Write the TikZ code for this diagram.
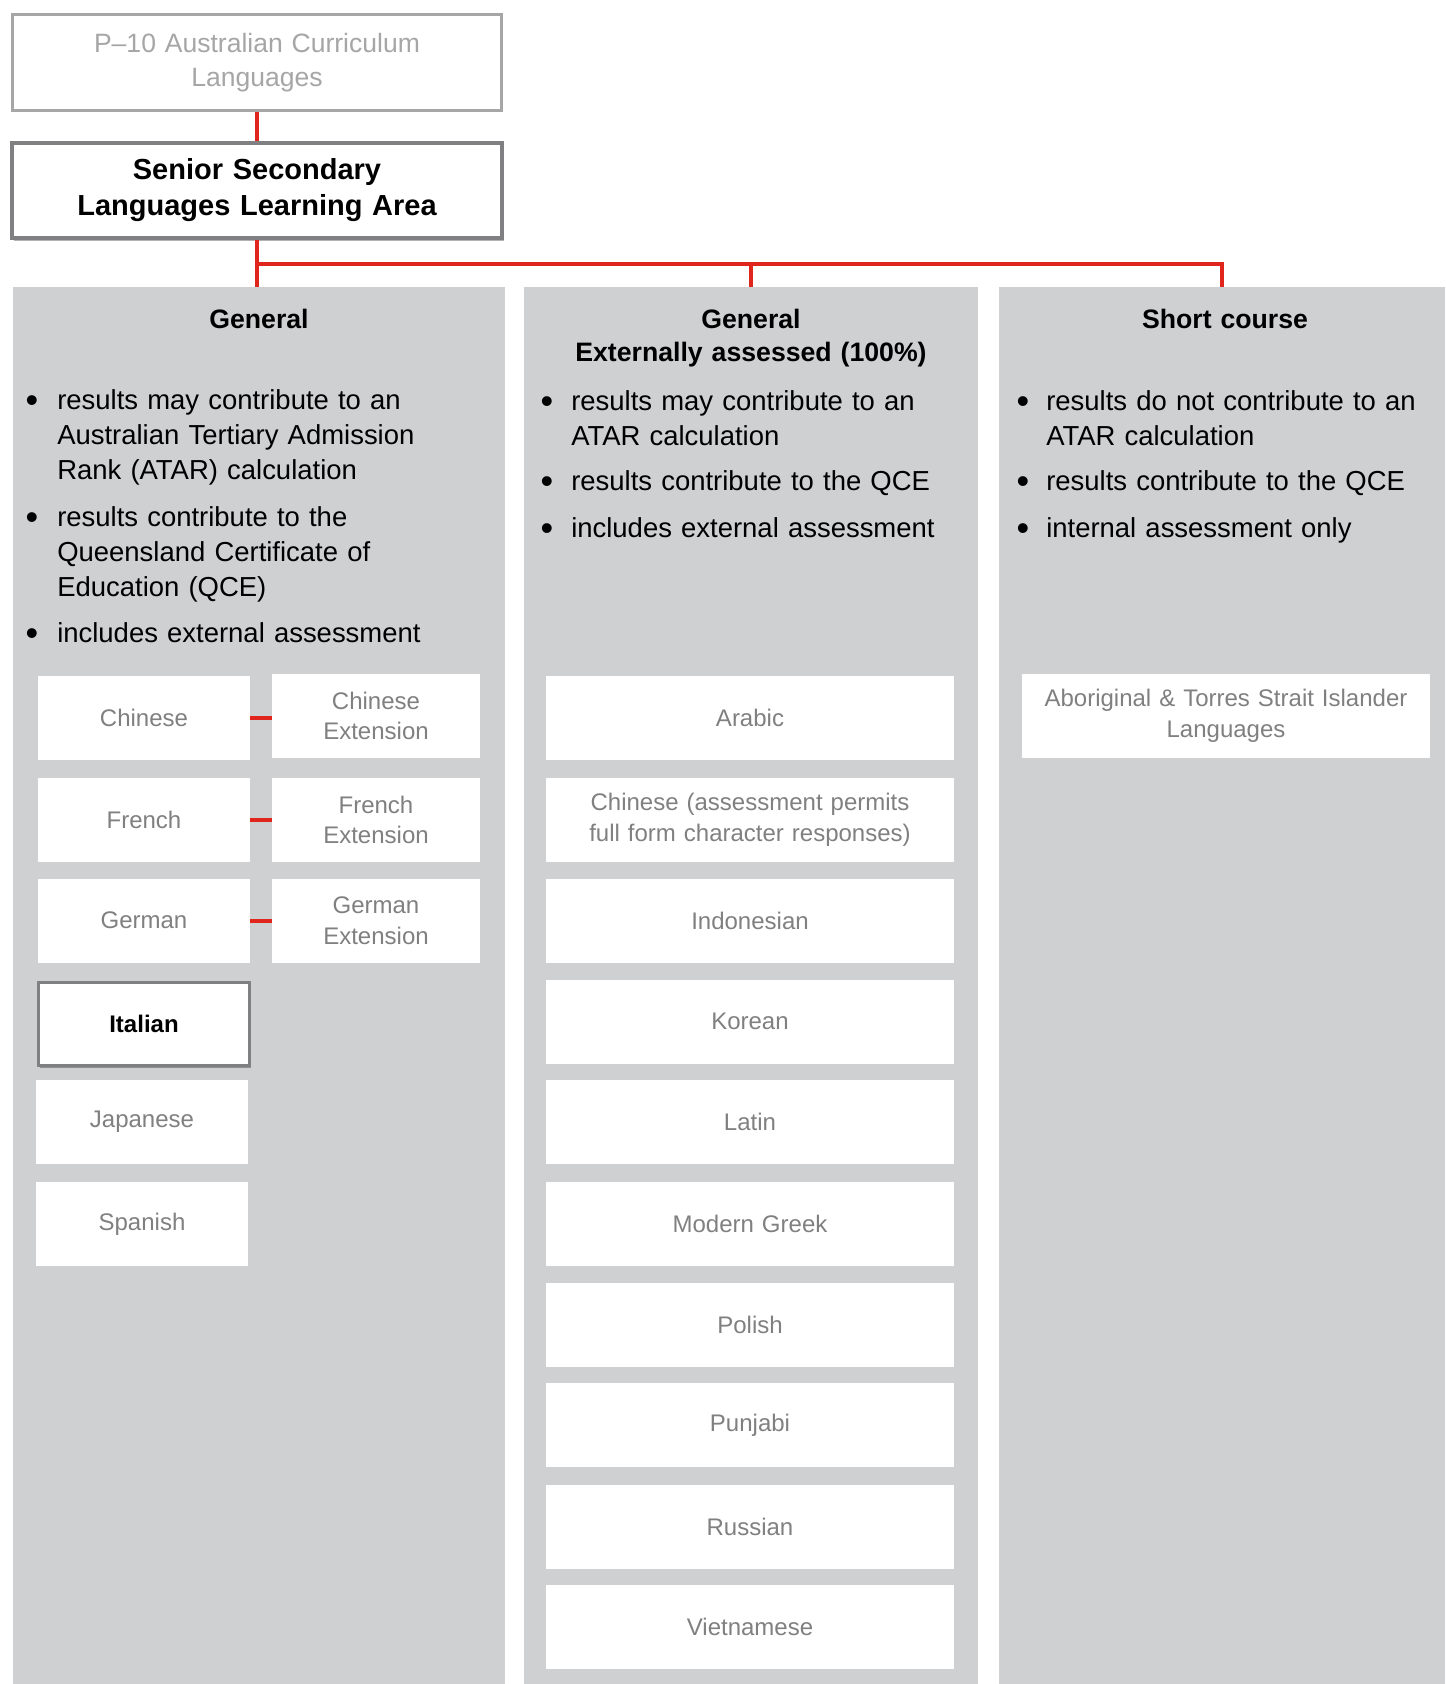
\documentclass[tikz,border=0pt]{standalone}
\usepackage{fontspec}
\setmainfont{Liberation Sans}
\usetikzlibrary{shadows}
\newlength{\pxu}\setlength{\pxu}{0.75pt}
\definecolor{panelgray}{RGB}{207,208,210}
\definecolor{linkred}{RGB}{224,37,28}
\definecolor{darkborder}{RGB}{128,128,130}
\definecolor{lightborder}{RGB}{166,166,166}
\definecolor{langtext}{RGB}{128,128,128}
\begin{document}
\begin{tikzpicture}[x=0.75pt,y=-0.75pt,
  panel/.style={fill=panelgray, anchor=north west, inner sep=0pt, minimum height=1397\pxu, minimum width=#1},
  redline/.style={draw=linkred, line width=3pt},
  softshadow/.style={drop shadow={shadow xshift=1.2pt, shadow yshift=-2.2pt, opacity=0.3, fill=black}},
  topbox/.style={fill=white, draw=lightborder, line width=2.25pt, inner sep=0pt, text width=489\pxu, align=center, minimum height=96\pxu, text=lightborder, font=\fontsize{19.9}{25.5}\selectfont},
  areabox/.style={fill=white, draw=darkborder, line width=3pt, inner sep=0pt, text width=490\pxu, align=center, minimum height=95\pxu, font=\bfseries\fontsize{21.75}{27}\selectfont, softshadow},
  head/.style={anchor=base, inner sep=0pt, text width=440\pxu, align=center, font=\bfseries\fontsize{20}{25}\selectfont},
  bul/.style={anchor=base, inner sep=0pt, font=\fontsize{27}{27}\selectfont},
  btext/.style={anchor=base west, inner sep=0pt, align=left, text width=#1, font=\fontsize{20.6}{26.25}\selectfont},
  lang/.style={fill=white, inner sep=0pt, align=center, text width=#1, minimum height=84\pxu, text=langtext, font=\fontsize{18}{23}\selectfont},
  chosen/.style={fill=white, draw=darkborder, line width=2.6pt, inner sep=0pt, align=center, text width=210.5\pxu, minimum height=82.5\pxu, font=\bfseries\fontsize{18}{23}\selectfont, softshadow}
]
\useasboundingbox (0,0) rectangle (1445,1684);

% top boxes
\node[topbox] (p10) at (257,62.5) {P–10 Australian Curriculum\\Languages};
\node[areabox] (area) at (257,190.5) {Senior Secondary\\Languages Learning Area};

% panels
\node[panel=492\pxu] (pg) at (13,287) {};
\node[panel=454\pxu] (pe) at (524,287) {};
\node[panel=446\pxu] (ps) at (999,287) {};

% headings
\node[head] (hg) at (259,328.3) {General};
\node[head] (he) at (751,328.3) {General\\Externally assessed (100\%)};
\node[head] (hs) at (1225,328.3) {Short course};

% General bullets
\node[bul] (gb1) at (32,412) {\textbullet};
\node[btext=440\pxu] (gt1) at (57,409) {results may contribute to an\\Australian Tertiary Admission\\Rank (ATAR) calculation};
\node[bul] (gb2) at (32,529.5) {\textbullet};
\node[btext=440\pxu] (gt2) at (57,526.5) {results contribute to the\\Queensland Certificate of\\Education (QCE)};
\node[bul] (gb3) at (32,645.5) {\textbullet};
\node[btext=440\pxu] (gt3) at (57,642.5) {includes external assessment};

% External bullets
\node[bul] (eb1) at (547,413) {\textbullet};
\node[btext=400\pxu] (et1) at (571,410) {results may contribute to an\\ATAR calculation};
\node[bul] (eb2) at (547,493.5) {\textbullet};
\node[btext=400\pxu] (et2) at (571,490.5) {results contribute to the QCE};
\node[bul] (eb3) at (547,540) {\textbullet};
\node[btext=400\pxu] (et3) at (571,537) {includes external assessment};

% Short course bullets
\node[bul] (sb1) at (1023,413) {\textbullet};
\node[btext=390\pxu] (st1) at (1046,410) {results do not contribute to an\\ATAR calculation};
\node[bul] (sb2) at (1023,493.5) {\textbullet};
\node[btext=390\pxu] (st2) at (1046,490.5) {results contribute to the QCE};
\node[bul] (sb3) at (1023,540) {\textbullet};
\node[btext=390\pxu] (st3) at (1046,537) {internal assessment only};

% General languages
\node[lang=212\pxu] (chi) at (144,718) {Chinese};
\node[lang=208\pxu] (chix) at (376,716) {Chinese\\Extension};
\node[lang=212\pxu] (fre) at (144,820) {French};
\node[lang=208\pxu] (frex) at (376,820) {French\\Extension};
\node[lang=212\pxu] (ger) at (144,920.5) {German};
\node[lang=208\pxu] (gerx) at (376,920.5) {German\\Extension};
\node[chosen] (ita) at (144,1024) {Italian};
\node[lang=212\pxu] (jap) at (142,1122) {Japanese};
\node[lang=212\pxu] (spa) at (142,1224) {Spanish};

% External languages
\node[lang=408\pxu] (ara) at (750,717.75) {Arabic};
\node[lang=408\pxu] (chf) at (750,820) {Chinese (assessment permits\\full form character responses)};
\node[lang=408\pxu] (ind) at (750,921) {Indonesian};
\node[lang=408\pxu] (kor) at (750,1021.5) {Korean};
\node[lang=408\pxu] (lat) at (750,1122) {Latin};
\node[lang=408\pxu] (mgr) at (750,1223.5) {Modern Greek};
\node[lang=408\pxu] (pol) at (750,1324.5) {Polish};
\node[lang=408\pxu] (pun) at (750,1425) {Punjabi};
\node[lang=408\pxu] (rus) at (750,1527) {Russian};
\node[lang=408\pxu] (vie) at (750,1626.5) {Vietnamese};

% Short course language
\node[lang=408\pxu] (abo) at (1226,716) {Aboriginal \& Torres Strait Islander\\Languages};

% connectors
\coordinate (bus) at (257,264);
\draw[redline] (p10.south) -- (area.north);
\draw[redline] (area.south) -- (area.south |- pg.north);
\draw[redline] (area.south |- bus) -| (ps.north);
\draw[redline] (bus -| pe.north) -- (pe.north);
\draw[redline] (chi.east) -- (chi.east -| chix.west);
\draw[redline] (fre.east) -- (fre.east -| frex.west);
\draw[redline] (ger.east) -- (ger.east -| gerx.west);
\end{tikzpicture}
\end{document}
